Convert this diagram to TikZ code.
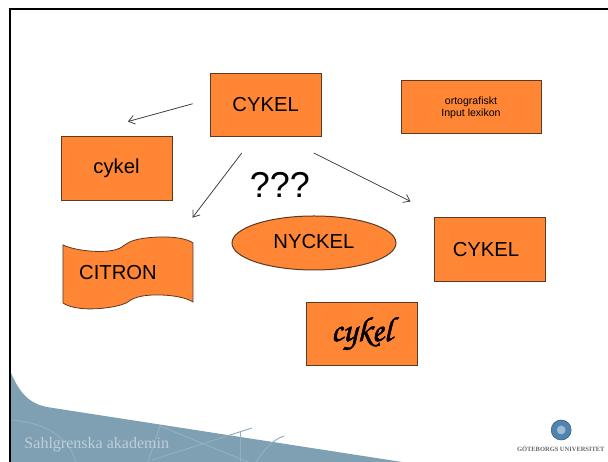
\documentclass[tikz,border=0pt]{standalone}
\usepackage{fontspec}
\setmainfont{Liberation Sans}
\newfontfamily\serifband{Liberation Serif}
\usetikzlibrary{positioning,shapes.geometric,arrows.meta}
\definecolor{boxfill}{HTML}{FF8635}
\definecolor{boxline}{HTML}{5A3A25}
\definecolor{bandblue}{HTML}{7F9FB3}
\definecolor{bandline}{HTML}{93AFC1}
\definecolor{bandtext}{HTML}{BFD0DA}
\definecolor{logoblue}{HTML}{4F84B0}

\begin{document}
\begin{tikzpicture}[
        main/.style = {draw=boxline, fill=boxfill, line width=0.25mm, font=\fontsize{14.4}{16}\selectfont},
        word/.style = {main, rectangle, minimum width=2.775cm, minimum height=1.58cm},
        link/.style = {-{Straight Barb[length=1.5mm,width=2.2mm]}, draw=black!75, line width=0.2mm}]
        \useasboundingbox (0,0) rectangle (15.2,11.55);
        % band and frame
        \fill   [bandblue]  (0.275,2.225) .. controls (0.5,1.7) and (0.75,1.45) .. (1.2,1.37) -- (10.05,0) -- (0.275,0) -- cycle;
        \draw   [bandline, line width=0.25mm]   (0.275,1.05) .. controls (1,1) and (1.7,0.7) .. (1.9,0);
        \draw   [bandline, line width=0.25mm]   (3.7,0) -- (4,0.9) -- (6.2,0);
        \draw   [bandline, line width=0.25mm]   (6.3,0.85) -- (3.8,0.05);
        \draw   [bandline, line width=0.25mm]   (6,0) -- (6,0.75);
        \draw   [bandline, line width=0.25mm]   (6.4,0) .. controls (6.6,0.3) and (6.8,0.55) .. (7.1,0.65);
        \draw   [black, line width=0.55mm]  (0.24,0) -- (0.24,11.32) -- (15.2,11.32);
        \node   [text=bandtext, font=\serifband\fontsize{11.4}{13}\selectfont] (akademin) at (2.42,0.425) {Sahlgrenska akademin};
        % logo
        \node   [circle, fill=logoblue, draw=logoblue!70!black, minimum size=0.5cm, inner sep=0pt] (logo) at (14.03,0.8) {};
        \node   [circle, fill=white!45!logoblue, minimum size=0.22cm, inner sep=0pt] (logoin) at (14.03,0.8) {};
        \node   [text=black!60, font=\serifband\bfseries\fontsize{4.6}{5}\selectfont] (gu) at (14.02,0.34) {GÖTEBORGS UNIVERSITET};
        % flag under its label
        \draw   [draw=boxline, fill=boxfill, line width=0.2mm, x=0.025cm, y=-0.025cm, yshift=11.55cm]
                (63,245) .. controls (75,251) and (105,254) .. (118,249) .. controls (124,247) and (124,244) .. (128,243)
                .. controls (134,239) and (150,237) .. (163,237) .. controls (175,237) and (188,239) .. (193,243) -- (193,302)
                .. controls (185,297) and (170,295) .. (157,295) .. controls (148,295) and (135,296) .. (128,302)
                .. controls (122,306) and (105,309) .. (90,309) .. controls (80,309) and (68,307) .. (63,303) -- cycle;
        % words
        \node[word] (top)     at (6.64,8.925)   {CYKEL};
        \node[word, minimum width=3.5cm, minimum height=1.325cm, align=center, font=\fontsize{7.5}{8.6}\selectfont] (input) at (11.775,8.8625) {ortografiskt\\Input lexikon};
        \node[word] (lower)   at (2.9125,7.3375)    {cykel};
        \node[minimum width=3.25cm, minimum height=1.8cm, font=\fontsize{14.4}{16}\selectfont] (citron) at (3.2,4.725) {CITRON\rule{0.5cm}{0pt}};
        \node[main, ellipse, minimum width=4.1cm, minimum height=1.35cm] (nyckel) at (7.85,5.475) {\raisebox{2pt}{NYCKEL}};
        \node[word] (upper)   at (12.25,5.3125) {CYKEL\rule{0.2cm}{0pt}};
        \node[word, font=\usefont{T1}{pzc}{b}{it}\fontsize{25}{27}\selectfont] (script) at (9.0375,3.2) {\special{pdf:code 2 Tr 0.35 w}cykel\special{pdf:code 0 Tr 0 w}};
        \node[font=\fontsize{25.6}{28}\selectfont] (doubt) at (7,6.925) {???};
        % arrows
        \draw   [link, shorten <=0.44cm, shorten >=1.4cm]   (top.174)    --  (lower.143.5);
        \draw   [link, shorten <=0.5cm,  shorten >=0.6cm]   (top.250.7)  --  (citron.36.1);
        \draw   [link, shorten <=0.89cm, shorten >=0.89cm]  (top.297.7)  --  (upper.146.3);
    \end{tikzpicture}
\end{document}
